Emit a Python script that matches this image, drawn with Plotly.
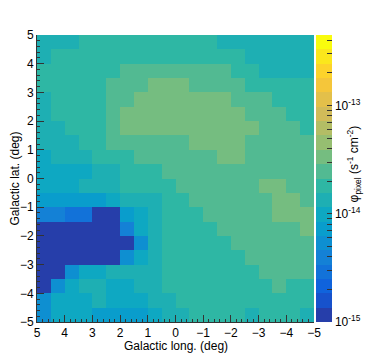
import numpy as np
import plotly.graph_objects as go

# bin centres (deg)
lon = [4.75, 4.25, 3.75, 3.25, 2.75, 2.25, 1.75, 1.25, 0.75, 0.25,
       -0.25, -0.75, -1.25, -1.75, -2.25, -2.75, -3.25, -3.75, -4.25, -4.75]
lat = [4.75, 4.25, 3.75, 3.25, 2.75, 2.25, 1.75, 1.25, 0.75, 0.25,
       -0.25, -0.75, -1.25, -1.75, -2.25, -2.75, -3.25, -3.75, -4.25, -4.75]

# flux per pixel, units of 1e-15 s^-1 cm^-2 (rows: lat from +5 down to -5)
flux = [
    [13.4, 13.4, 13.4, 18.2, 18.2, 18.2, 18.2, 18.2, 18.2, 18.2, 18.2, 18.2, 18.2, 13.4, 13.4, 13.4, 13.4, 13.4, 13.4, 13.4],
    [13.4, 18.2, 18.2, 18.2, 18.2, 18.2, 18.2, 18.2, 18.2, 18.2, 18.2, 18.2, 18.2, 18.2, 18.2, 13.4, 13.4, 13.4, 13.4, 13.4],
    [18.2, 18.2, 18.2, 18.2, 18.2, 18.2, 24.6, 24.6, 24.6, 24.6, 24.6, 24.6, 24.6, 24.6, 18.2, 18.2, 13.4, 13.4, 13.4, 13.4],
    [18.2, 18.2, 18.2, 18.2, 18.2, 24.6, 24.6, 24.6, 33.4, 33.4, 33.4, 24.6, 24.6, 24.6, 24.6, 18.2, 18.2, 18.2, 18.2, 18.2],
    [13.4, 18.2, 18.2, 18.2, 18.2, 24.6, 24.6, 33.4, 33.4, 33.4, 33.4, 33.4, 33.4, 33.4, 24.6, 24.6, 24.6, 18.2, 18.2, 18.2],
    [13.4, 18.2, 18.2, 18.2, 18.2, 24.6, 33.4, 33.4, 33.4, 33.4, 33.4, 33.4, 33.4, 33.4, 33.4, 24.6, 24.6, 24.6, 18.2, 18.2],
    [13.4, 13.4, 18.2, 18.2, 18.2, 24.6, 33.4, 33.4, 33.4, 33.4, 33.4, 33.4, 33.4, 33.4, 33.4, 33.4, 24.6, 24.6, 24.6, 18.2],
    [13.4, 13.4, 13.4, 18.2, 18.2, 24.6, 24.6, 24.6, 24.6, 24.6, 24.6, 33.4, 33.4, 33.4, 33.4, 24.6, 24.6, 24.6, 24.6, 24.6],
    [9.9, 13.4, 13.4, 13.4, 18.2, 18.2, 18.2, 24.6, 24.6, 24.6, 24.6, 24.6, 24.6, 33.4, 33.4, 24.6, 24.6, 24.6, 24.6, 24.6],
    [9.9, 9.9, 9.9, 9.9, 13.4, 13.4, 18.2, 18.2, 18.2, 24.6, 24.6, 24.6, 24.6, 24.6, 24.6, 24.6, 24.6, 24.6, 24.6, 24.6],
    [9.9, 9.9, 9.9, 13.4, 13.4, 13.4, 18.2, 18.2, 18.2, 18.2, 24.6, 24.6, 24.6, 24.6, 24.6, 24.6, 33.4, 33.4, 24.6, 24.6],
    [7.3, 7.3, 7.3, 7.3, 7.3, 9.9, 13.4, 13.4, 13.4, 18.2, 18.2, 24.6, 24.6, 24.6, 24.6, 24.6, 24.6, 33.4, 33.4, 24.6],
    [4.0, 4.0, 2.9, 2.9, 1.2, 1.2, 7.3, 9.9, 13.4, 18.2, 18.2, 18.2, 24.6, 24.6, 24.6, 24.6, 24.6, 33.4, 33.4, 33.4],
    [1.2, 1.2, 1.2, 1.2, 1.2, 1.2, 4.0, 9.9, 13.4, 18.2, 18.2, 18.2, 18.2, 24.6, 24.6, 24.6, 24.6, 24.6, 24.6, 33.4],
    [1.2, 1.2, 1.2, 1.2, 1.2, 1.2, 1.2, 5.4, 13.4, 18.2, 18.2, 18.2, 18.2, 18.2, 24.6, 24.6, 24.6, 24.6, 24.6, 24.6],
    [1.2, 1.2, 1.2, 1.2, 1.2, 1.2, 5.4, 9.9, 13.4, 18.2, 18.2, 18.2, 18.2, 18.2, 18.2, 24.6, 24.6, 24.6, 24.6, 24.6],
    [1.2, 1.2, 5.4, 9.9, 9.9, 13.4, 13.4, 13.4, 13.4, 18.2, 18.2, 18.2, 18.2, 18.2, 18.2, 18.2, 24.6, 24.6, 24.6, 24.6],
    [1.2, 5.4, 9.9, 13.4, 13.4, 9.9, 9.9, 13.4, 13.4, 18.2, 18.2, 18.2, 18.2, 18.2, 18.2, 18.2, 18.2, 24.6, 18.2, 18.2],
    [5.4, 9.9, 9.9, 9.9, 13.4, 9.9, 9.9, 9.9, 13.4, 13.4, 18.2, 18.2, 18.2, 18.2, 18.2, 18.2, 18.2, 18.2, 18.2, 18.2],
    [5.4, 9.9, 9.9, 9.9, 7.3, 7.3, 7.3, 7.3, 9.9, 13.4, 13.4, 18.2, 18.2, 18.2, 18.2, 13.4, 18.2, 18.2, 18.2, 13.4],
]

z = np.log10(np.array(flux) * 1e-15)

# ROOT kBird palette, 20 contour bands
bird_stops = [0.0, 0.125, 0.25, 0.375, 0.5, 0.625, 0.75, 0.875, 1.0]
bird_r = [0.2082, 0.0592, 0.0780, 0.0232, 0.1802, 0.5301, 0.8186, 0.9956, 0.9764]
bird_g = [0.1664, 0.3599, 0.5041, 0.6419, 0.7178, 0.7492, 0.7328, 0.7862, 0.9832]
bird_b = [0.5293, 0.8684, 0.8385, 0.7914, 0.6425, 0.4662, 0.3499, 0.1968, 0.0539]
nband = 20
colorscale = []
for i in range(nband):
    f = (i + 1) / nband
    c = 'rgb(%d,%d,%d)' % (round(255 * np.interp(f, bird_stops, bird_r)),
                           round(255 * np.interp(f, bird_stops, bird_g)),
                           round(255 * np.interp(f, bird_stops, bird_b)))
    colorscale.append([i / nband, c])
    colorscale.append([(i + 1) / nband, c])

cb_ticks = []
cb_text = []
for dec in [-15, -14, -13]:
    for m in range(1, 10):
        v = dec + np.log10(m)
        if v <= -12.35:
            cb_ticks.append(v)
            cb_text.append('10<sup>%d</sup>' % dec if m == 1 else '')

family = 'Liberation Sans, Arial, sans-serif'
font = dict(family=family, size=12, color='#000000')

fig = go.Figure(go.Heatmap(
    x=lon, y=lat, z=z,
    zmin=-15, zmax=-12.35,
    colorscale=colorscale,
    colorbar=dict(
        x=1.007, xanchor='left', y=0.5, yanchor='middle',
        len=1, thickness=16, outlinewidth=0, xpad=0, ypad=0,
        ticks='inside', ticklen=5, tickcolor='#333333',
        tickvals=cb_ticks, ticktext=cb_text,
        tickfont=dict(family=family, size=12, color='#000000'),
    ),
    hoverinfo='skip',
))

# the page body adds an 8px margin, so everything is laid out 8px up/left
fig.update_layout(
    width=366, height=349,
    margin=dict(l=29, r=60, t=27, b=35, autoexpand=False),
    paper_bgcolor='white',
    plot_bgcolor='white',
    font=font,
    annotations=[
        dict(text='φ<sub>pixel</sub> (s<sup>-1</sup> cm<sup>-2</sup>)',
             xref='paper', yref='paper', x=1.185, y=0.55,
             textangle=-90, showarrow=False,
             font=dict(family=family, size=12, color='#000000')),
        dict(text='Galactic long. (deg)',
             xref='paper', yref='paper', x=0.5, y=-0.053,
             xanchor='center', yanchor='top', showarrow=False, font=font),
    ],
)
fig.update_xaxes(
    range=[5, -5], tickvals=[5, 4, 3, 2, 1, 0, -1, -2, -3, -4, -5],
    ticks='inside', ticklen=7, tickcolor='#333333',
    minor=dict(dtick=0.2, ticks='inside', ticklen=3, tickcolor='#333333'),
    showline=True, linecolor='#333333', linewidth=1,
    showgrid=False, zeroline=False,
)
fig.update_yaxes(
    range=[-5, 5], tickvals=[5, 4, 3, 2, 1, 0, -1, -2, -3, -4, -5],
    ticks='inside', ticklen=7, tickcolor='#333333',
    minor=dict(dtick=0.2, ticks='inside', ticklen=3, tickcolor='#333333'),
    showline=True, linecolor='#333333', linewidth=1,
    showgrid=False, zeroline=False,
    title=dict(text='Galactic lat. (deg)', standoff=2, font=font),
)

fig.write_html('out.html')
